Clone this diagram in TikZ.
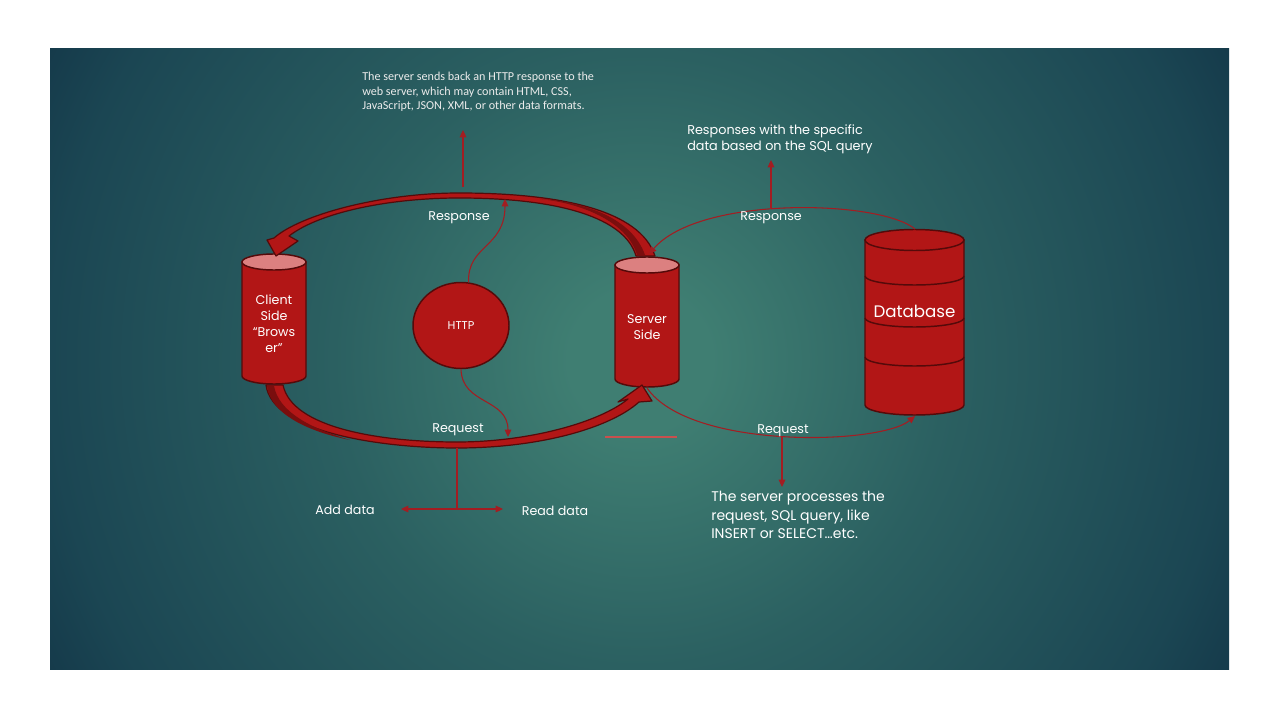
\documentclass[tikz,border=0pt]{standalone}
\usepackage{fontspec}
\setmainfont{Poppins}
\newfontfamily\notefont{Carlito}
\usetikzlibrary{positioning,calc,shapes,arrows.meta}
\definecolor{SlideIn}{HTML}{3F7E72}
\definecolor{SlideMid}{HTML}{2B6061}
\definecolor{SlideEdge}{HTML}{1B4653}
\definecolor{SlideOut}{HTML}{143849}
\definecolor{CylRed}{HTML}{B21616}
\definecolor{CylDark}{HTML}{7A0E0E}
\definecolor{CylEdge}{HTML}{550A0A}
\definecolor{CylTop}{HTML}{DC8080}
\definecolor{LinkRed}{HTML}{A31D22}
\definecolor{StrayRed}{HTML}{C9504E}
\pgfdeclareradialshading{slideglow}{\pgfpoint{0bp}{0bp}}{color(0bp)=(SlideIn); color(3bp)=(SlideIn); color(13bp)=(SlideMid); color(25bp)=(SlideEdge); color(29bp)=(SlideOut); color(50bp)=(SlideOut)}
\tikzset{
  lbl/.style={text=white, inner sep=0pt, align=center, font=\fontsize{9.5}{12}\selectfont},
  link/.style={draw=LinkRed, line width=0.8pt, -{Triangle[length=5.5pt,width=5pt]}},
  cylbody/.style={fill=CylRed, draw=CylEdge, line width=1.1pt},
  ribbon/.style={fill=CylRed, draw=CylEdge, line width=0.9pt, line join=round}
}
\begin{document}
\begin{tikzpicture}[x=0.75pt,y=-0.75pt]
  \useasboundingbox (0,0) rectangle (1280,720);
  \fill[white] (0,0) rectangle (1280,720);
  % slide background
  \begin{scope}
    \clip (50,49) rectangle (1229,669);
    \shade[shading=slideglow] (50,-230) rectangle (1230,950);
  \end{scope}

  % client cylinder
  \path[cylbody] (242,262) -- (242,376) arc[start angle=180, end angle=0, x radius=32, y radius=8] -- (306,262) -- cycle;
  \filldraw[fill=CylTop, draw=CylEdge, line width=1.1pt] (274,262) ellipse[x radius=32, y radius=8];
  \node[lbl] (client) at (274,324) {Client\\Side\\“Brows\\er”};
  \coordinate (cltop) at (276,256);
  \coordinate (clbot) at (275,385);

  % server cylinder
  \path[cylbody] (615,265) -- (615,379) arc[start angle=180, end angle=0, x radius=32, y radius=8] -- (679,265) -- cycle;
  \filldraw[fill=CylTop, draw=CylEdge, line width=1.1pt] (647,265) ellipse[x radius=32, y radius=8];
  \node[lbl] (server) at (647,327) {Server\\Side};
  \coordinate (srvtop) at (649,254);
  \coordinate (srvbot) at (647,388);
  \coordinate (srvhead) at (642,385);

  % database
  \path[cylbody] (865,240) -- (865,405) arc[start angle=180, end angle=0, x radius=49.5, y radius=10] -- (964,240) -- cycle;
  \foreach \yy in {276,318,357}
    \draw[CylEdge, line width=1.1pt] (865,\yy) arc[start angle=180, end angle=0, x radius=49.5, y radius=9];
  \filldraw[fill=CylRed, draw=CylEdge, line width=1.1pt] (914.5,240) ellipse[x radius=49.5, y radius=10.5];
  \node[lbl, font=\fontsize{12.5}{15}\selectfont] (db) at (914.5,311) {Database};
  \coordinate (dbtop) at (915,229);
  \coordinate (dbbot) at (915,416);

  % http
  \node[ellipse, fill=CylRed, draw=CylEdge, line width=1.1pt, minimum width=72pt, minimum height=64.5pt, inner sep=0pt,
        text=white, font=\fontsize{8.5}{10}\selectfont] (http) at (461,325.5) {HTTP};

  % big response arrow (server -> client)
  \path[ribbon] (274,238) .. controls (300,215) and (380,193) .. (459,193)
    .. controls (560,193) and (640,210) .. (655,256) -- (636,256)
    .. controls (625,218) and (560,198) .. (459,198)
    .. controls (390,198) and (320,212) .. (289,236)
    -- (298,241) -- (cltop) -- (267,240) -- cycle;
  \fill[CylDark] (637,255) .. controls (627,221) and (580,203) .. (540,199)
    .. controls (585,202) and (632,218) .. (645,255) -- cycle;

  % big request arrow (client -> server)
  \path[ribbon] (266,385) .. controls (272,432) and (380,448) .. (457,448)
    .. controls (540,448) and (610,428) .. (639,402) -- (652,401) -- (srvhead) -- (618,402) -- (628,399)
    .. controls (600,422) and (530,442) .. (457,442)
    .. controls (380,442) and (292,428) .. (283,385) -- cycle;
  \fill[CylDark] (267,386) .. controls (271,415) and (310,432) .. (350,440)
    .. controls (310,428) and (279,412) .. (274,386) -- cycle;

  % http side arrows
  \coordinate (resptip) at (505,199);
  \coordinate (reqtip) at (508,437);
  \draw[link] (http.80) .. controls (467,245) and (505,248) .. (resptip);
  \draw[link] (http.south) .. controls (462,405) and (508,398) .. (reqtip);

  % thin arcs to the database
  \draw[link] (dbtop) .. controls (880,200) and (700,195) .. (srvtop);
  \draw[link] (srvbot) .. controls (690,450) and (880,445) .. (dbbot);
  \draw[StrayRed, line width=0.9pt] (605,437) -- (677,437);

  % call-outs
  \coordinate (toparc) at (463,187);
  \coordinate (notept) at (463,130);
  \draw[link] (toparc) -- (notept);
  \coordinate (rresp) at (771,208);
  \coordinate (rnote) at (771,160);
  \draw[link] (rresp) -- (rnote);
  \coordinate (rreq) at (782,437);
  \coordinate (rproc) at (782,487);
  \draw[link] (rreq) -- (rproc);
  \coordinate (botarc) at (457,448);
  \coordinate (split) at (457,509);
  \coordinate (addpt) at (401,509);
  \coordinate (readpt) at (503,509);
  \draw[LinkRed, line width=0.8pt] (botarc) -- (split);
  \draw[link, {Triangle[length=5.5pt,width=5pt]}-{Triangle[length=5.5pt,width=5pt]}] (addpt) -- (readpt);

  % labels
  \node[lbl] (resp1) at (459,217.5) {Response};
  \node[lbl] (req1) at (458,430) {Request};
  \node[lbl] (resp2) at (771,217.5) {Response};
  \node[lbl] (req2) at (783,431) {Request};
  \node[lbl] (add) at (345,510) {Add data};
  \node[lbl] (read) at (555,511) {Read data};
  \node[lbl, anchor=north west, align=left, text=white!85!gray, font=\notefont\fontsize{9.1}{10.9}\selectfont]
    (note) at (362,72) {The server sends back an HTTP response to the\\web server, which may contain HTML, CSS,\\JavaScript, JSON, XML, or other data formats.};
  \node[lbl, anchor=north west, align=left, font=\fontsize{9.6}{12}\selectfont]
    (sqlresp) at (687,124) {Responses with the specific\\data based on the SQL query};
  \node[lbl, anchor=north west, align=left, font=\fontsize{10.5}{13.9}\selectfont]
    (sqlproc) at (711,491) {The server processes the\\request, SQL query, like\\INSERT or SELECT…etc.};
\end{tikzpicture}
\end{document}
